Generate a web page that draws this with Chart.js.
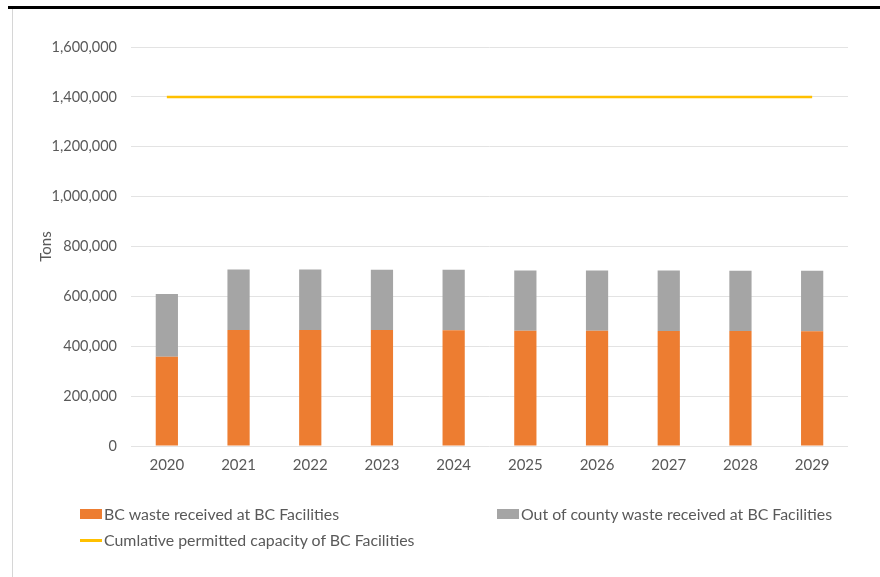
<!DOCTYPE html>
<html>
<head>
<meta charset="utf-8">
<script src="https://cdn.jsdelivr.net/npm/chart.js@4.4.1/dist/chart.umd.min.js"></script>
<style>
  html, body { margin: 0; padding: 0; background: #fff; }
  #wrap { position: relative; width: 880px; height: 577px; overflow: hidden; font-family: Lato, "Open Sans", sans-serif; }
  #topRule { position: absolute; left: 8px; top: 6px; width: 872px; height: 3px; background: #000; }
  #leftRule { position: absolute; left: 12px; top: 9px; width: 1px; height: 568px; background: #d6d6d6; }
  #chartBox { position: absolute; left: 0; top: 0; width: 880px; height: 577px; }
  .legend-item { position: absolute; font-size: 15.9px; color: #595959; line-height: 18px; white-space: nowrap; }
  .legend-item .swatch { position: absolute; }
</style>
</head>
<body>
<div id="wrap">
  <div id="chartBox"><canvas id="wasteChart"></canvas></div>
  <div id="topRule"></div>
  <div id="leftRule"></div>
  <div id="legend"></div>
</div>
<script>
// Years on the x axis
const years = ["2020", "2021", "2022", "2023", "2024", "2025", "2026", "2027", "2028", "2029"];

// Tons per year
const bcWaste = [358000, 465000, 465000, 465000, 464000, 462000, 462000, 461000, 461000, 460000];
const outOfCountyWaste = [252000, 243000, 243000, 242000, 243000, 242000, 242000, 243000, 242000, 243000];
const permittedCapacity = [1400000, 1400000, 1400000, 1400000, 1400000, 1400000, 1400000, 1400000, 1400000, 1400000];

// Y axis ticks
const yTicks = [0, 200000, 400000, 600000, 800000, 1000000, 1200000, 1400000, 1600000];

const orange = "#ED7D31";
const grey = "#A5A5A5";
const gold = "#FFC000";
const textColor = "#595959";

const labelBc = "BC waste received at BC Facilities";
const labelOut = "Out of county waste received at BC Facilities";
const labelCap = "Cumlative permitted capacity of BC Facilities";

const ctx = document.getElementById("wasteChart").getContext("2d");
new Chart(ctx, {
  type: "bar",
  data: {
    labels: years,
    datasets: [
      {
        type: "line",
        label: labelCap,
        data: permittedCapacity,
        borderColor: gold,
        backgroundColor: gold,
        borderWidth: 2.5,
        pointRadius: 0,
        stack: "capacity",
        order: 0,
      },
      {
        label: labelBc,
        data: bcWaste,
        backgroundColor: orange,
        stack: "waste",
        order: 1,
      },
      {
        label: labelOut,
        data: outOfCountyWaste,
        backgroundColor: grey,
        stack: "waste",
        order: 1,
      },
    ],
  },
  options: {
    responsive: true,
    maintainAspectRatio: false,
    animation: false,
    layout: {
      padding: { left: 18, right: 32, top: 47, bottom: 101 },
    },
    datasets: {
      bar: { barPercentage: 0.31, categoryPercentage: 1.0 },
    },
    plugins: {
      legend: { display: false },
      tooltip: { enabled: false },
    },
    scales: {
      x: {
        stacked: true,
        grid: { display: false, drawTicks: false },
        border: { display: false },
        ticks: {
          color: textColor,
          font: { family: "Lato", size: 15 },
          padding: 10,
          maxRotation: 0,
        },
        afterFit: (scale) => { scale.height = 30; },
      },
      y: {
        stacked: true,
        min: 0,
        max: 1600000,
        afterBuildTicks: (scale) => {
          scale.ticks = yTicks.map((v) => ({ value: v }));
        },
        afterFit: (scale) => { scale.width = 113; },
        grid: { color: "#e3e3e3", drawTicks: false, lineWidth: 1 },
        border: { display: false },
        ticks: {
          color: textColor,
          font: { family: "Lato", size: 14.5 },
          padding: 14,
          callback: (v) => Number(v).toLocaleString("en-US"),
        },
        title: {
          display: true,
          text: "Tons",
          color: textColor,
          font: { family: "Lato", size: 15 },
          padding: { top: 19, bottom: 0 },
        },
      },
    },
  },
});

// Legend laid out as in the report: two columns, then a second row
const legendItems = [
  { text: labelBc, color: orange, kind: "box", x: 80, y: 505 },
  { text: labelOut, color: grey, kind: "box", x: 497, y: 505 },
  { text: labelCap, color: gold, kind: "line", x: 80, y: 531 },
];
const legendEl = document.getElementById("legend");
legendItems.forEach((item) => {
  const div = document.createElement("div");
  div.className = "legend-item";
  div.style.left = item.x + "px";
  div.style.top = item.y + "px";
  div.style.paddingLeft = "24px";
  const sw = document.createElement("span");
  sw.className = "swatch";
  sw.style.background = item.color;
  sw.style.left = "0px";
  if (item.kind === "box") {
    sw.style.top = "4px";
    sw.style.width = "22px";
    sw.style.height = "10px";
  } else {
    sw.style.top = "8px";
    sw.style.width = "22px";
    sw.style.height = "2.5px";
  }
  div.appendChild(sw);
  div.appendChild(document.createTextNode(item.text));
  legendEl.appendChild(div);
});
</script>
</body>
</html>
